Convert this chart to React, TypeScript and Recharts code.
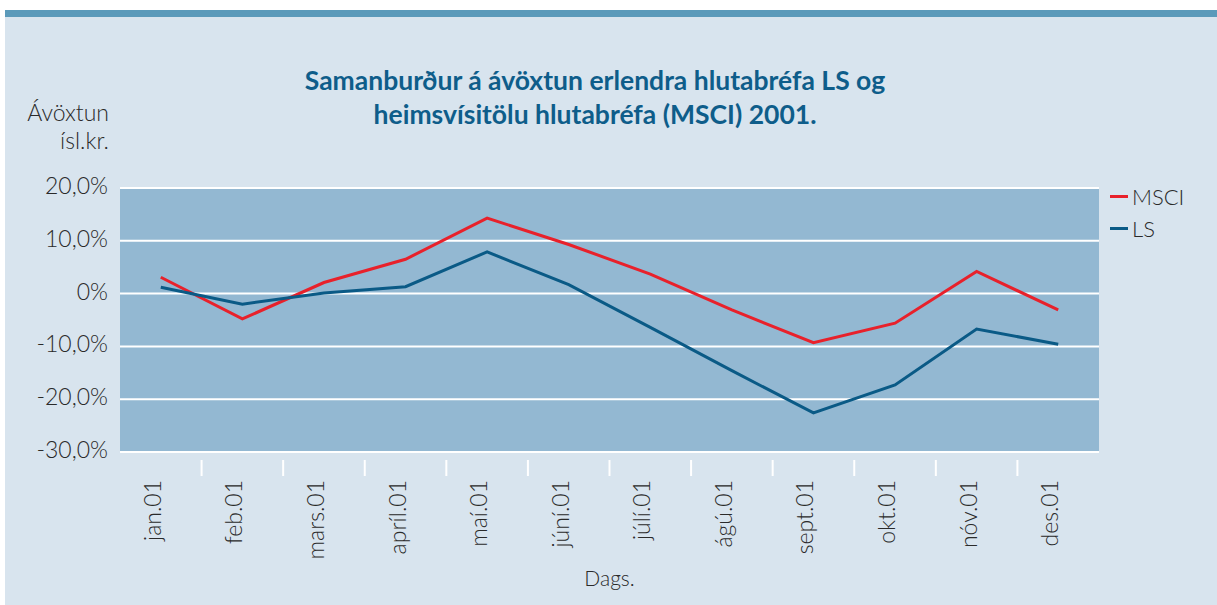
import { LineChart, Line, XAxis, YAxis, CartesianGrid } from 'recharts';

const MONTHS = ['jan.01', 'feb.01', 'mars.01', 'apríl.01', 'maí.01', 'júní.01', 'júlí.01', 'ágú.01', 'sept.01', 'okt.01', 'nóv.01', 'des.01'];
const MSCI = [3.1, -4.8, 2.1, 6.5, 14.3, 9.3, 3.7, -3.1, -9.3, -5.6, 4.2, -3.1];
const LS = [1.2, -2.0, 0.1, 1.3, 7.9, 1.7, -6.4, -14.6, -22.6, -17.3, -6.7, -9.6];
const Y_TICKS = [-30, -20, -10, 0, 10, 20];
const SERIES = [
  { key: 'MSCI', color: '#e8212b' },
  { key: 'LS', color: '#0a5a86' },
];

const TITLE = ['Samanburður á ávöxtun erlendra hlutabréfa LS og', 'heimsvísitölu hlutabréfa (MSCI) 2001.'];

const data = MONTHS.map((m, i) => ({ month: m, MSCI: MSCI[i], LS: LS[i] }));

const LIGHT = { fontFamily: 'Lato, "Open Sans", sans-serif', fontWeight: 300, color: '#2a2a2a' };
const BAND = 979 / 12;

const fmtPct = (v: number) => (v === 0 ? '0%' : `${v},0%`);

function XTick(props: any) {
  const { x, y, payload, index } = props;
  return (
    <g>
      {index < MONTHS.length - 1 && (
        <line x1={x + BAND / 2} x2={x + BAND / 2} y1={y} y2={y + 16} stroke="#fff" strokeWidth={2} />
      )}
      <text
        x={0}
        y={0}
        transform={`translate(${x}, ${y + 20}) rotate(-90)`}
        textAnchor="end"
        fontSize={23}
        fontFamily={LIGHT.fontFamily}
        fontWeight={300}
        fill="#2a2a2a"
      >
        {payload.value}
      </text>
    </g>
  );
}

function YTick(props: any) {
  const { x, y, payload } = props;
  return (
    <text x={x - 4} y={y + 6} textAnchor="end" fontSize={23} fontFamily={LIGHT.fontFamily} fontWeight={300} fill="#2a2a2a">
      {fmtPct(payload.value)}
    </text>
  );
}

export default function App() {
  return (
    <div style={{ position: 'absolute', left: 5, top: 10, width: 1212, height: 595, background: '#d8e4ee' }}>
      <div style={{ position: 'absolute', left: 0, top: 0, width: 1212, height: 7, background: '#5b9aba' }} />
      <div
        style={{
          position: 'absolute', left: 0, top: 53, width: 1180, textAlign: 'center',
          fontFamily: 'Lato, "Open Sans", sans-serif', fontWeight: 700, fontSize: 26.5, lineHeight: '34px', color: '#0e5d8a',
        }}
      >
        {TITLE.map((t) => <div key={t}>{t}</div>)}
      </div>
      <div style={{ position: 'absolute', right: 1212 - 104, top: 88, textAlign: 'right', ...LIGHT, fontSize: 23, lineHeight: '28px' }}>
        <div>Ávöxtun</div>
        <div>ísl.kr.</div>
      </div>
      <div style={{ position: 'absolute', left: 0, top: 0 }}>
        <LineChart width={1212} height={595} data={data} margin={{ top: 178, right: 118, bottom: 0, left: 0 }}>
          <CartesianGrid vertical={false} fill="#93b8d2" stroke="#ffffff" strokeWidth={2} />
          <XAxis dataKey="month" scale="band" height={153} axisLine={{ stroke: '#fff', strokeWidth: 2 }} tickLine={false} tick={<XTick />} interval={0} />
          <YAxis width={115} domain={[-30, 20]} ticks={Y_TICKS} axisLine={false} tickLine={false} tick={<YTick />} />
          {SERIES.map((s) => (
            <Line key={s.key} dataKey={s.key} stroke={s.color} strokeWidth={3} dot={false} isAnimationActive={false} />
          ))}
        </LineChart>
      </div>
      <div style={{ position: 'absolute', left: 1105, top: 170 }}>
        {SERIES.map((s) => (
          <div key={s.key} style={{ display: 'flex', alignItems: 'center', height: 32, ...LIGHT, fontSize: 22 }}>
            <span style={{ display: 'inline-block', width: 18, height: 3, background: s.color, marginRight: 4 }} />
            {s.key}
          </div>
        ))}
      </div>
      <div style={{ position: 'absolute', left: 0, width: 1209, top: 555, textAlign: 'center', ...LIGHT, fontSize: 21 }}>
        Dags.
      </div>
    </div>
  );
}
